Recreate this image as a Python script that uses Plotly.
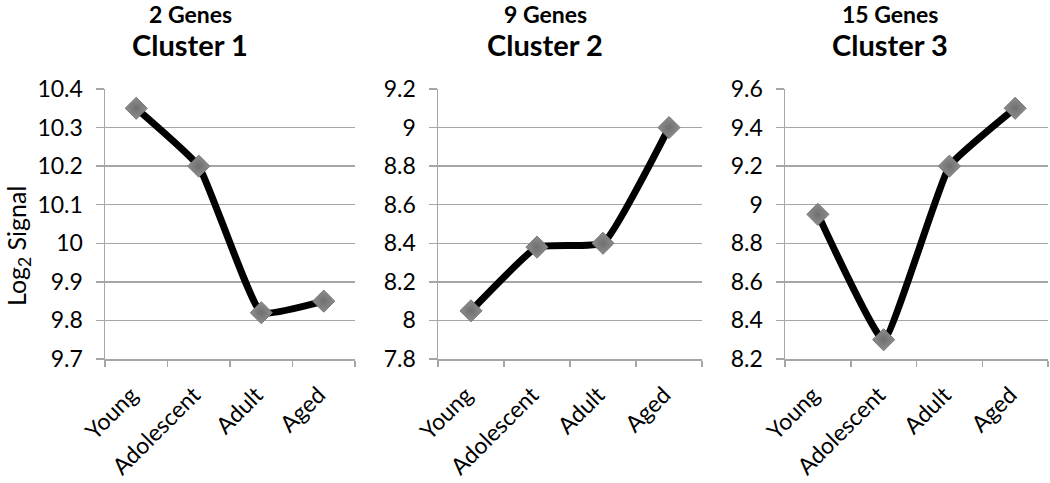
import plotly.graph_objects as go

stages = ["Young", "Adolescent", "Adult", "Aged"]
cluster1 = [10.35, 10.20, 9.82, 9.85]
cluster2 = [8.05, 8.38, 8.40, 9.00]
cluster3 = [8.95, 8.30, 9.20, 9.50]
gene_counts = ["2 Genes", "9 Genes", "15 Genes"]
cluster_names = ["Cluster 1", "Cluster 2", "Cluster 3"]
y_ranges = [(9.7, 10.4), (7.8, 9.2), (8.2, 9.6)]
y_dticks = [0.1, 0.2, 0.2]

series = [cluster1, cluster2, cluster3]
W, H = 1050, 483


def px_x(p):
    return p / W


def px_y(p):
    return 1 - p / H


domains_px = [(105, 355), (438, 702), (785, 1048)]
top_px, bot_px = 89, 359
title_cx = [190, 545, 890]

FONT = "Lato"
GRID = "#a6a6a6"

fig = go.Figure()
for i, vals in enumerate(series):
    xa = "x" if i == 0 else f"x{i+1}"
    ya = "y" if i == 0 else f"y{i+1}"
    fig.add_trace(go.Scatter(
        x=stages, y=vals, xaxis=xa, yaxis=ya, mode="lines+markers",
        line=dict(color="black", width=7, shape="spline", smoothing=0.35),
        marker=dict(symbol="diamond", size=17, color="#8e8e8e",
                    gradient=dict(type="radial", color="#6f6f6f"),
                    line=dict(color="#767676", width=1)),
        showlegend=False, cliponaxis=False,
    ))
    d0, d1 = domains_px[i]
    kx = "xaxis" if i == 0 else f"xaxis{i+1}"
    ky = "yaxis" if i == 0 else f"yaxis{i+1}"
    fig.layout[kx] = dict(
        domain=[px_x(d0), px_x(d1)], anchor=ya, type="category",
        range=[-0.5, 3.5], tickson="boundaries", ticks="outside",
        ticklen=6, tickwidth=1.5, tickcolor=GRID, tickangle=-45,
        showline=True, linecolor=GRID, linewidth=1.5, showgrid=False,
        tickfont=dict(family=FONT, size=23, color="black"),
        ticklabelstandoff=12, ticklabelshift=-5,
        automargin=False, fixedrange=True,
    )
    r0, r1 = y_ranges[i]
    fig.layout[ky] = dict(
        domain=[px_y(bot_px), px_y(top_px)], anchor=xa,
        range=[r0, r1], dtick=y_dticks[i], tick0=r0,
        ticks="outside", ticklen=8, tickwidth=1.5, tickcolor=GRID,
        showgrid=True, gridcolor=GRID, gridwidth=1.5,
        showline=True, linecolor=GRID, linewidth=1.5, zeroline=False,
        tickfont=dict(family=FONT, size=23, color="black"),
        ticklabelstandoff=8, automargin=False, fixedrange=True,
    )
    fig.add_annotation(text=f"<b>{gene_counts[i]}</b>", x=px_x(title_cx[i]), y=px_y(14),
                       xref="paper", yref="paper", showarrow=False,
                       xanchor="center", yanchor="middle",
                       font=dict(family=FONT, size=23, color="black"))
    fig.add_annotation(text=f"<b>{cluster_names[i]}</b>", x=px_x(title_cx[i]), y=px_y(44),
                       xref="paper", yref="paper", showarrow=False,
                       xanchor="center", yanchor="middle",
                       font=dict(family=FONT, size=29, color="black"))

fig.add_annotation(text="Log<sub>2</sub> Signal", x=px_x(18), y=px_y(246),
                   xref="paper", yref="paper", showarrow=False, textangle=-90,
                   xanchor="center", yanchor="middle",
                   font=dict(family=FONT, size=25, color="black"))

fig.update_layout(width=W, height=H, margin=dict(l=0, r=0, t=0, b=0, autoexpand=False),
                  paper_bgcolor="white", plot_bgcolor="white", hovermode=False)
fig.write_html("out.html", config={"displayModeBar": False, "staticPlot": True},
               post_script="document.body.style.margin='0';document.body.style.overflow='hidden';")
